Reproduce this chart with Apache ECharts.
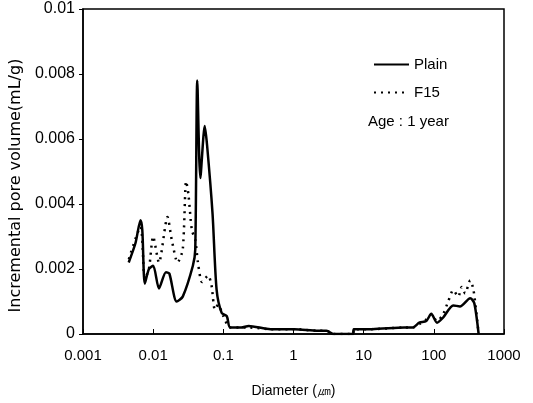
<!DOCTYPE html>
<html>
<head>
<meta charset="utf-8">
<script src="https://cdn.jsdelivr.net/npm/echarts@6/dist/echarts.min.js"></script>
<style>
  html, body { margin: 0; padding: 0; background: #fff; }
  #chart-container { width: 533px; height: 403px; }
</style>
</head>
<body>
<div id="chart-container"></div>
<script>
// pore diameter (um) and incremental pore volume (mL/g)
const plainDiameter = [0.00448, 0.0056, 0.0066, 0.0070, 0.0076, 0.0087, 0.0100, 0.0121, 0.0152, 0.0170,
  0.0216, 0.0264, 0.0368, 0.0398, 0.0425, 0.0470, 0.0543, 0.0587, 0.0702, 0.0801,
  0.0946, 0.112, 0.125, 0.18, 0.23, 0.47, 1.03, 2.23, 2.95, 3.68,
  7.1, 7.2, 13.2, 37.8, 50, 62, 78, 92, 111, 135,
  189, 236, 330, 377, 435];
const plainVolume = [0.0022, 0.0028, 0.0035, 0.0032, 0.00155, 0.0020, 0.0021, 0.0014, 0.0019, 0.00186,
  0.0010, 0.00115, 0.0021, 0.0026, 0.0078, 0.0048, 0.0064, 0.0058, 0.0037, 0.00137,
  0.00065, 0.00055, 0.0002, 0.0002, 0.00025, 0.00015, 0.00015, 0.0001, 0.0001, 0,
  0, 0.00015, 0.00015, 0.0002, 0.0002, 0.00035, 0.0004, 0.00062, 0.00035, 0.0005,
  0.00088, 0.00085, 0.0011, 0.00095, 0];

const f15Diameter = [0.0045, 0.0066, 0.0076, 0.0087, 0.0100, 0.0121, 0.0160, 0.0184, 0.0223, 0.0264,
  0.0295, 0.0318, 0.0356, 0.0398, 0.0435, 0.0497, 0.0607, 0.0678, 0.0758, 0.0843,
  0.100, 0.125, 0.23, 0.47, 1.03, 2.23, 2.95, 3.68, 7.1, 7.2,
  13.2, 37.8, 50, 62, 78, 92, 111, 135, 160, 189,
  223, 250, 279, 330, 368, 435];
const f15Volume = [0.0023, 0.0033, 0.0017, 0.0020, 0.0030, 0.0022, 0.0036, 0.0029, 0.0022, 0.0026,
  0.0047, 0.0043, 0.0032, 0.0029, 0.0022, 0.0016, 0.0018, 0.0015, 0.00075, 0.0009,
  0.00055, 0.0002, 0.0002, 0.00015, 0.00015, 0.0001, 0.0001, 0, 0, 0.00015,
  0.00015, 0.0002, 0.0002, 0.0003, 0.00045, 0.0006, 0.0004, 0.0006, 0.0010, 0.00135,
  0.00115, 0.00145, 0.00125, 0.00165, 0.00135, 0];

const xTicks = [0.001, 0.01, 0.1, 1, 10, 100, 1000];
const yTicks = [0, 0.002, 0.004, 0.006, 0.008, 0.01];

const font = '"Liberation Sans", Arial, sans-serif';

function pairs(xs, ys) {
  return xs.map(function (x, i) { return [x, ys[i]]; });
}

const chart = echarts.init(document.getElementById('chart-container'));
chart.setOption({
  animation: false,
  textStyle: { fontFamily: font, color: '#000' },
  grid: {
    left: 83, right: 29, top: 9, bottom: 65,
    show: true, borderColor: '#000', borderWidth: 1.5
  },
  legend: {
    orient: 'vertical',
    left: 368, top: 52,
    itemWidth: 35, itemHeight: 14, itemGap: 13, itemTextGap: 4,
    itemStyle: { opacity: 0 },
    textStyle: { fontSize: 15, color: '#000', fontFamily: font },
    data: ['Plain', 'F15']
  },
  graphic: [{
    type: 'text', left: 368, top: 114,
    style: { text: 'Age : 1 year', fontSize: 15, fontFamily: font, fill: '#000' }
  }],
  xAxis: {
    type: 'log', logBase: 10,
    min: xTicks[0], max: xTicks[xTicks.length - 1],
    name: 'Diameter (㎛)', nameLocation: 'middle', nameGap: 50,
    nameTextStyle: { fontSize: 14, color: '#000', fontFamily: font },
    axisLine: { lineStyle: { color: '#000', width: 1.5 } },
    axisTick: { inside: true, length: 5, lineStyle: { color: '#000' } },
    minorTick: { show: false },
    splitLine: { show: false },
    axisLabel: {
      fontSize: 15, color: '#000', margin: 14, fontFamily: font,
      formatter: function (v) { return v < 1 ? String(+v.toPrecision(2)) : String(Math.round(v)); }
    }
  },
  yAxis: {
    type: 'value',
    min: yTicks[0], max: yTicks[yTicks.length - 1], interval: 0.002,
    name: 'Incremental pore volume(mL/g)', nameLocation: 'middle', nameGap: 54,
    nameTextStyle: { fontSize: 16, color: '#000', fontFamily: '"DejaVu Sans", sans-serif', padding: [0, 28, 0, 0] },
    axisLine: { show: true, lineStyle: { color: '#000', width: 1.5 } },
    axisTick: { show: true, length: 4, lineStyle: { color: '#000' } },
    splitLine: { show: false },
    axisLabel: {
      fontSize: 16, color: '#000', margin: 8, fontFamily: font,
      formatter: function (v) { return v === 0 ? '0' : String(+v.toFixed(3)); }
    }
  },
  series: [{
    name: 'Plain', type: 'line', symbol: 'none', smooth: 0.25,
    data: pairs(plainDiameter, plainVolume),
    lineStyle: { color: '#000', width: 2.5 },
    itemStyle: { color: '#000' }
  }, {
    name: 'F15', type: 'line', symbol: 'none', smooth: 0.25,
    data: pairs(f15Diameter, f15Volume),
    lineStyle: { color: '#000', width: 2.5, type: [2, 5] },
    itemStyle: { color: '#000' }
  }]
});
</script>
</body>
</html>
